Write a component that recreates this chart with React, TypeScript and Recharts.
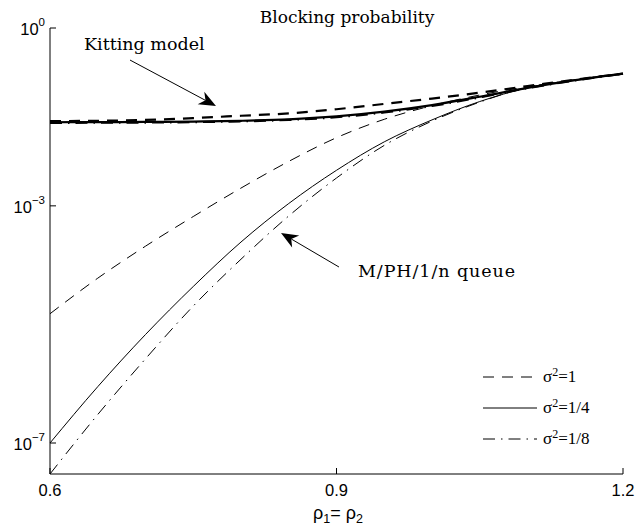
import React from "react";
import { LineChart, Line, XAxis, YAxis, Legend, ReferenceLine, Customized } from "recharts";

// ρ1 = ρ2
const rho = [0.6, 0.65, 0.7, 0.75, 0.8, 0.85, 0.9, 0.95, 1.0, 1.05, 1.1, 1.15, 1.2];

// Kitting model (thick lines)
const kitSigma1 = [0.02692, 0.02723, 0.02818, 0.0302, 0.03311, 0.03631, 0.04266, 0.05248, 0.06457, 0.08128, 0.10471, 0.1349, 0.16982];
const kitSigma1_4 = [0.0257, 0.02582, 0.026, 0.02642, 0.02723, 0.02884, 0.03236, 0.0389, 0.05012, 0.06918, 0.09772, 0.13183, 0.16982];
const kitSigma1_8 = [0.02512, 0.02523, 0.02541, 0.02582, 0.02661, 0.02818, 0.03126, 0.03758, 0.04842, 0.06761, 0.09661, 0.13092, 0.16866];

// M/PH/1/n queue (thin lines)
const queueSigma1 = [1.514e-5, 6.026e-5, 2.089e-4, 6.607e-4, 1.995e-3, 5.623e-3, 1.413e-2, 2.884e-2, 4.898e-2, 7.413e-2, 0.10233, 0.13335, 0.16982];
const queueSigma1_4 = [1.0e-7, 8.913e-7, 6.761e-6, 4.365e-5, 2.455e-4, 1.096e-3, 3.981e-3, 1.202e-2, 2.818e-2, 5.754e-2, 9.772e-2, 0.13335, 0.16982];
const queueSigma1_8 = [3.0e-8, 3.02e-7, 2.63e-6, 2.042e-5, 1.259e-4, 6.761e-4, 2.951e-3, 1.047e-2, 2.692e-2, 5.623e-2, 0.1, 0.13335, 0.16982];

const xTicks = [0.6, 0.9, 1.2];
const xTickLabels = ["0.6", "0.9", "1.2"];
const yTicks = [1e-7, 1e-3, 1];
const yTickExponents = ["\u22127", "\u22123", "0"];

const legendLabels = ["1", "1/4", "1/8"];

const data = rho.map((r, i) => ({
  rho: r,
  kit1: kitSigma1[i],
  kit14: kitSigma1_4[i],
  kit18: kitSigma1_8[i],
  q1: queueSigma1[i],
  q14: queueSigma1_4[i],
  q18: queueSigma1_8[i],
}));

const DASH = "11 8";
const DASHDOT = "12 6 1.5 6";
const SANS = "'Liberation Sans', Arial, sans-serif";
const SERIF_CM = "'DejaVu Serif', serif";
const SERIF_T = "'Liberation Serif', 'Times New Roman', serif";

const XTick = (props: any) => {
  const { x, y, payload, index } = props;
  const i = xTicks.indexOf(payload.value);
  return (
    <g>
      <line x1={x} y1={y} x2={x} y2={y - 6} stroke="#000" strokeWidth={1} />
      <text x={x} y={y + 22} textAnchor="middle" fontFamily={SANS} fontSize={16.5} fill="#000">
        {xTickLabels[i >= 0 ? i : index]}
      </text>
    </g>
  );
};

const YTick = (props: any) => {
  const { x, y, payload, index } = props;
  const i = yTicks.indexOf(payload.value);
  return (
    <g>
      <line x1={x} y1={y} x2={x + 6} y2={y} stroke="#000" strokeWidth={1} />
      <text x={x - 5} y={y + 7} textAnchor="end" fontFamily={SANS} fontSize={16.5} fill="#000">
        <tspan>10</tspan>
        <tspan dy={-9} fontSize={11.5}>{yTickExponents[i >= 0 ? i : index]}</tspan>
      </text>
    </g>
  );
};

const ArrowShape = (props: any) => {
  const { x1, y1, x2, y2 } = props;
  if ([x1, y1, x2, y2].some((v) => typeof v !== "number" || isNaN(v))) return null;
  const dx = x2 - x1;
  const dy = y2 - y1;
  const len = Math.sqrt(dx * dx + dy * dy);
  const ux = dx / len;
  const uy = dy / len;
  const L = 17;
  const W = 7;
  const bx = x2 - ux * L;
  const by = y2 - uy * L;
  const nx = x2 - ux * (L * 0.7);
  const ny = y2 - uy * (L * 0.7);
  const pts = [
    [x2, y2],
    [bx - uy * W, by + ux * W],
    [nx, ny],
    [bx + uy * W, by - ux * W],
  ]
    .map((p) => p.join(","))
    .join(" ");
  return (
    <g>
      <line x1={x1} y1={y1} x2={nx} y2={ny} stroke="#000" strokeWidth={1} />
      <polygon points={pts} fill="#000" />
    </g>
  );
};

const Annotations = () => (
  <g>
    <text x={347} y={23} textAnchor="middle" fontFamily={SERIF_CM} fontSize={17} fill="#000">
      Blocking probability
    </text>
    <text x={84} y={50} fontFamily={SERIF_CM} fontSize={17.5} fill="#000">
      Kitting model
    </text>
    <text x={358} y={277} fontFamily={SERIF_CM} fontSize={17.5} textLength={157} lengthAdjust="spacing" fill="#000">
      M/PH/1/n queue
    </text>
    <text x={338} y={519} textAnchor="middle" fontFamily={SANS} fontSize={18} fill="#000">
      <tspan>ρ</tspan>
      <tspan dy={4} fontSize={12.5}>1</tspan>
      <tspan dy={-4}>= ρ</tspan>
      <tspan dy={4} fontSize={12.5}>2</tspan>
    </text>
  </g>
);

const seriesStyle: Record<string, { dash?: string }> = {
  q1: { dash: DASH },
  q14: {},
  q18: { dash: DASHDOT },
};

const LegendContent = (props: any) => {
  const items = (props.payload || []).filter((p: any) => p.dataKey in seriesStyle);
  return (
    <div>
      {items.map((p: any, i: number) => (
        <div key={i} style={{ height: 31, display: "flex", alignItems: "center" }}>
          <svg width={56} height={10} style={{ display: "block" }}>
            <line
              x1={0}
              y1={5}
              x2={54}
              y2={5}
              stroke="#000"
              strokeWidth={1}
              strokeDasharray={seriesStyle[p.dataKey].dash}
            />
          </svg>
          <span style={{ marginLeft: 4, fontFamily: SERIF_T, fontSize: 17, color: "#000", lineHeight: "17px" }}>
            σ<sup style={{ fontSize: 12, verticalAlign: "6px", lineHeight: 0 }}>2</sup>={legendLabels[i]}
          </span>
        </div>
      ))}
    </div>
  );
};

export default function App() {
  return (
    <div style={{ position: "absolute", left: 0, top: 0, width: 637, height: 531, background: "#fff" }}>
      <LineChart width={637} height={531} data={data} margin={{ top: 28, right: 14, bottom: 0, left: 0 }}>
        <XAxis
          dataKey="rho"
          type="number"
          domain={[0.6, 1.2]}
          ticks={xTicks}
          height={57}
          tickSize={0}
          tickMargin={0}
          tickLine={false}
          tick={<XTick />}
          axisLine={{ stroke: "#000", strokeWidth: 1 }}
          interval={0}
        />
        <YAxis
          scale="log"
          type="number"
          domain={[3e-8, 1]}
          allowDataOverflow
          ticks={yTicks}
          width={50}
          tickSize={0}
          tickMargin={0}
          tickLine={false}
          tick={<YTick />}
          axisLine={{ stroke: "#000", strokeWidth: 1 }}
          interval={0}
        />
        <Line dataKey="q1" name="q1" type="monotone" stroke="#000" strokeWidth={1} strokeDasharray={DASH} dot={false} isAnimationActive={false} />
        <Line dataKey="q14" name="q14" type="monotone" stroke="#000" strokeWidth={1} dot={false} isAnimationActive={false} />
        <Line dataKey="q18" name="q18" type="monotone" stroke="#000" strokeWidth={1} strokeDasharray={DASHDOT} dot={false} isAnimationActive={false} />
        <Line dataKey="kit18" type="monotone" stroke="#000" strokeWidth={2.2} strokeDasharray={DASHDOT} dot={false} legendType="none" isAnimationActive={false} />
        <Line dataKey="kit14" type="monotone" stroke="#000" strokeWidth={2.2} dot={false} legendType="none" isAnimationActive={false} />
        <Line dataKey="kit1" type="monotone" stroke="#000" strokeWidth={2.2} strokeDasharray={DASH} dot={false} legendType="none" isAnimationActive={false} />
        <ReferenceLine
          segment={[{ x: 0.6838, y: 0.288 }, { x: 0.7738, y: 0.0484 }]}
          shape={<ArrowShape />}
          ifOverflow="visible"
        />
        <ReferenceLine
          segment={[{ x: 0.9026, y: 9.3e-5 }, { x: 0.8419, y: 3.49e-4 }]}
          shape={<ArrowShape />}
          ifOverflow="visible"
        />
        <Legend
          layout="vertical"
          align="center"
          verticalAlign="middle"
          content={<LegendContent />}
          wrapperStyle={{ position: "absolute", left: 483, top: 361, width: 140, height: 93 }}
        />
        <Customized component={<Annotations />} />
      </LineChart>
    </div>
  );
}
